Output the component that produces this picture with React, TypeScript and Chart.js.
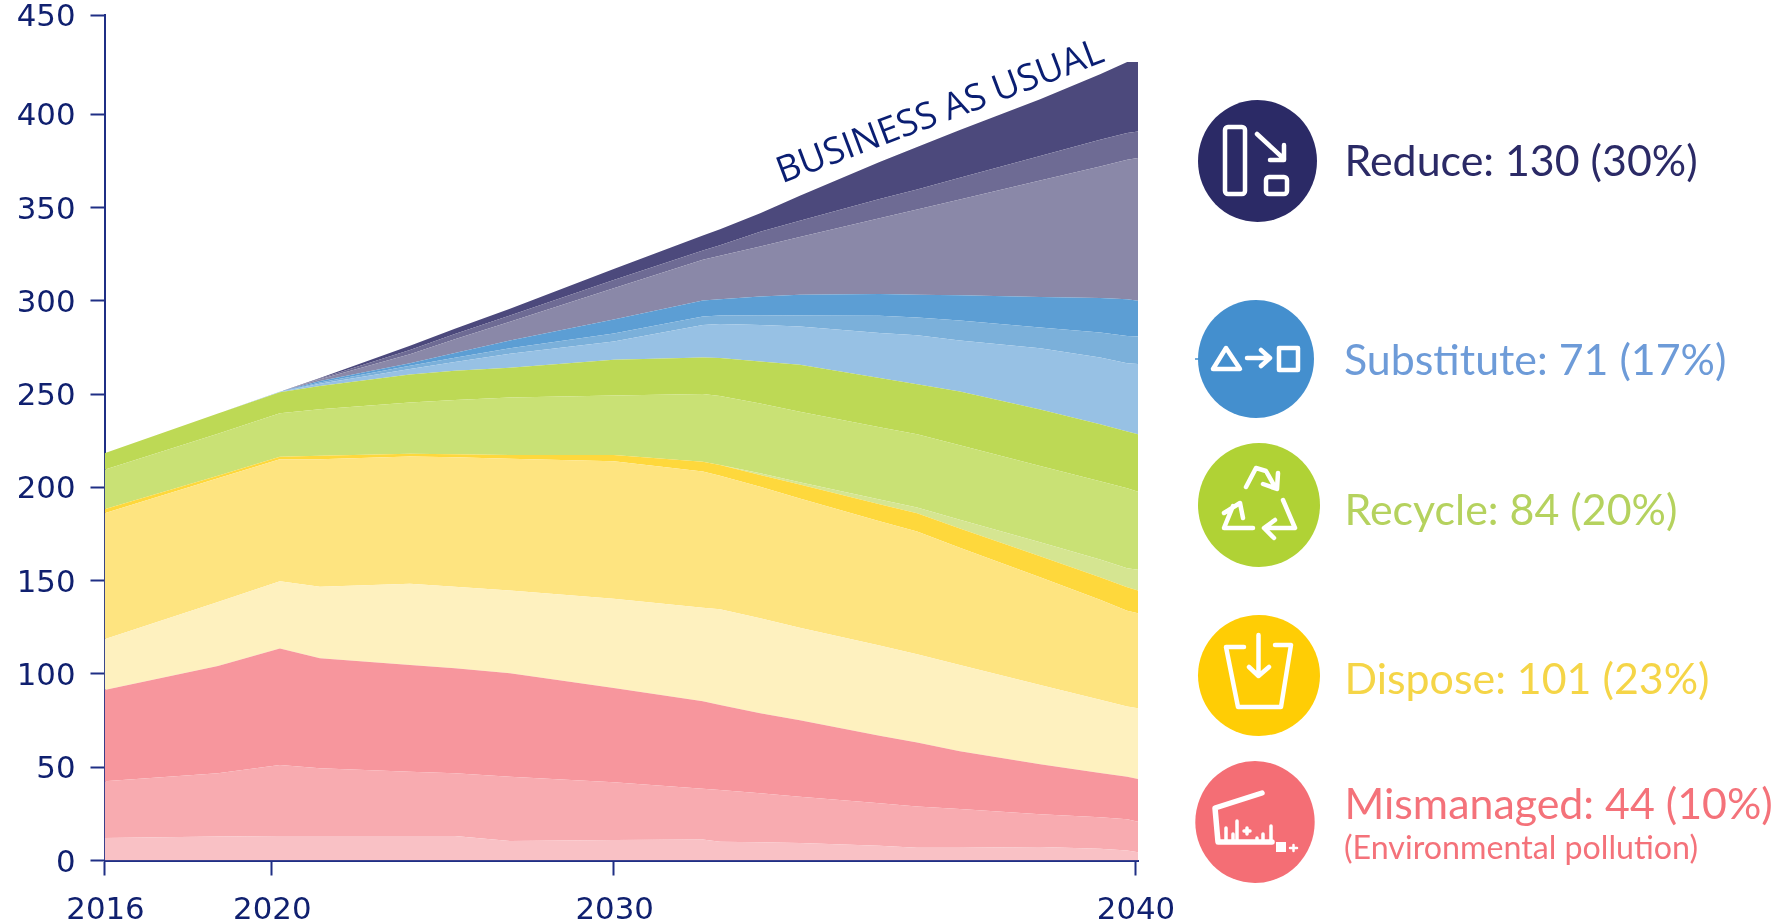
import React, { useEffect, useRef } from "react";
import { Chart, registerables, LinearScale } from "chart.js";

const years = [2016, 2018.72, 2020.25, 2021.42, 2024.05, 2025.36, 2026.97, 2030, 2031.71, 2032.04, 2032.81, 2033.57, 2035.1, 2035.82, 2036.64, 2038.18, 2039.33, 2039.85, 2040.05];
const xTickValues = [2016, 2020, 2030, 2040];
const yTickValues = [0, 50, 100, 150, 200, 250, 300, 350, 400, 450];

// Upper edge of each band (Mt per year), bottom to top.
const mismanagedA = [12.1, 12.8, 13.1, 13.1, 13.1, 13.1, 10.5, 11, 11.2, 10.1, 9.8, 9.4, 7.9, 6.9, 6.9, 7.2, 6.3, 5.3, 4.4];
const mismanagedB = [42.5, 46.8, 51.2, 49.4, 47.6, 46.8, 44.9, 42, 38.5, 37.8, 36, 34.2, 30.7, 29, 27.6, 24.8, 23.2, 22.1, 20.8];
const mismanagedC = [91.4, 104.3, 113.6, 108.4, 104.8, 103, 100.4, 92.5, 85.3, 83.4, 78.9, 75.2, 66.9, 63.2, 58.5, 51.6, 46.9, 44.9, 43.7];
const disposeA = [118.6, 138.6, 149.7, 146.8, 148.4, 146.8, 144.7, 140.3, 135.5, 134.7, 129.9, 124.8, 115.2, 110.6, 104.8, 94.1, 86.1, 82.5, 81.6];
const disposeB = [186.2, 204.9, 215.1, 215.1, 216.5, 216.2, 215.3, 214, 208.5, 206.2, 200.4, 194, 181.9, 176.3, 167.7, 151.8, 139.8, 133.9, 132.5];
const disposeC = [188.3, 206.3, 216.4, 216.9, 218, 217.8, 217.4, 217.4, 213.8, 212, 206.7, 201.5, 191, 186.2, 177.9, 163.1, 151.8, 146.5, 144.7];
const recycleA = [188.3, 206.3, 216.4, 216.9, 218, 217.8, 217.4, 217.4, 213.8, 212, 207.6, 202.8, 193.5, 189.2, 182.7, 170.6, 161.3, 156.7, 155.8];
const recycleB = [209.4, 228.8, 239.8, 241.9, 245.5, 246.9, 248.2, 249.2, 250.1, 249, 245, 240.6, 232.3, 228.5, 222.6, 211.5, 203.3, 199.6, 197.7];
const recycleC = [218.3, 239.6, 251, 254.4, 260.5, 262.5, 264.1, 268.4, 269.6, 269.3, 267.5, 265.7, 258.7, 255.3, 251.4, 241.7, 233.9, 229.9, 228.5];
const substituteA = [218.3, 239.6, 251.1, 255.5, 263.5, 267.2, 271.6, 278.2, 287.1, 287.6, 287.1, 286.2, 282.7, 281.6, 278.7, 274.6, 269.6, 266.6, 266.2];
const substituteB = [218.3, 239.6, 251.1, 256.2, 265.2, 269.5, 274.6, 282.5, 291.6, 292.1, 292.3, 292.1, 292, 291, 289.4, 285.7, 283, 281.2, 280.9];
const substituteC = [218.3, 239.6, 251.2, 257, 266.6, 272, 278.7, 290, 300.2, 300.9, 302.3, 303.2, 303.6, 303.2, 303, 302.1, 301.5, 300.9, 300];
const reduceA = [218.3, 239.6, 251.2, 258, 271.4, 279.4, 288.8, 306.8, 322, 324.1, 329.1, 334.2, 344.3, 349, 354.3, 364.5, 372, 375.6, 376.5];
const reduceB = [218.3, 239.6, 251.2, 258.4, 273.7, 282.2, 292.1, 311.2, 327, 329.8, 337, 342.9, 354.6, 359.7, 366, 377.6, 386.3, 389.9, 390.8];
const reduceC = [218.3, 239.6, 251.2, 258.7, 275.9, 285, 295.8, 317, 335, 338.4, 347, 356.3, 374.4, 382.4, 391.6, 407.6, 420.2, 426.4, 426.4];

const bands = [mismanagedA, mismanagedB, mismanagedC, disposeA, disposeB, disposeC, recycleA, recycleB, recycleC, substituteA, substituteB, substituteC, reduceA, reduceB, reduceC];
const bandNames = ["Mismanaged A", "Mismanaged B", "Mismanaged C", "Dispose A", "Dispose B", "Dispose C", "Recycle A", "Recycle B", "Recycle C", "Substitute A", "Substitute B", "Substitute C", "Reduce A", "Reduce B", "Reduce C"];
const bandColors = ["#f9c1c5", "#f8abb0", "#f7969d", "#fef1bf", "#fee480", "#fed83c", "#d5e591", "#c9e175", "#bdd955", "#97c1e4", "#7bb0da", "#5c9ed4", "#8a88a8", "#6e6b94", "#4c497c"];

const legendLines = [
  { text: "Reduce: 130 (30%)", color: "#2b2a66" },
  { text: "Substitute: 71 (17%)", color: "#6d9bd8" },
  { text: "Recycle: 84 (20%)", color: "#b5d25e" },
  { text: "Dispose: 101 (23%)", color: "#f5d547" },
  { text: "Mismanaged: 44 (10%)", color: "#f4727a" },
];
const legendNote = "(Environmental pollution)";
const curveLabel = "BUSINESS AS USUAL";

const NAVY = "#10206f";
const AXIS = "#1f2f85";

// The source axes are not uniform, so each is drawn by piecewise-linear stops of [value, fraction].
const xStops = [[2016, 0], [2020, 0.1614], [2030, 0.4927], [2040, 0.9971], [2040.05, 1]];
const yStops = [[0, 0], [400, 0.8829], [450, 1]];

function interp(stops: number[][], v: number, a: number, b: number) {
  for (let i = 0; i < stops.length - 1; i++) {
    if (v <= stops[i + 1][a] || i === stops.length - 2) {
      const t = (v - stops[i][a]) / (stops[i + 1][a] - stops[i][a]);
      return stops[i][b] + t * (stops[i + 1][b] - stops[i][b]);
    }
  }
  return 0;
}

class PiecewiseScale extends LinearScale {
  static id = "piecewise";
  static defaults = LinearScale.defaults;
  stops() {
    return this.axis === "x" ? xStops : yStops;
  }
  getPixelForValue(value: number) {
    if (value === null || value === undefined) return NaN;
    return this.getPixelForDecimal(interp(this.stops(), value, 0, 1));
  }
  getValueForPixel(pixel: number) {
    return interp(this.stops(), this.getDecimalForPixel(pixel), 1, 0);
  }
}

Chart.register(...registerables, PiecewiseScale);

const FONT = { family: "'DejaVu Sans'", size: 30.8 };

function noPadding(s: any) {
  s.paddingTop = 0;
  s.paddingBottom = 0;
  s.paddingLeft = 0;
  s.paddingRight = 0;
}

function Icons() {
  const s = { fill: "none", stroke: "#fff", strokeWidth: 4.5, strokeLinejoin: "round", strokeLinecap: "round" } as any;
  return (
    <g>
      <ellipse cx={1257.5} cy={161} rx={59.5} ry={61} fill="#2b2a66" />
      <rect x={1225} y={127} width={20} height={67} rx={3} {...s} />
      <path d="M1257 134 L1284 159 M1284 145 L1284 160 L1270 160" {...s} />
      <rect x={1266} y={177} width={21} height={17} rx={3} {...s} />

      <line x1={1195} y1={359} x2={1200} y2={359} stroke="#448fce" strokeWidth={1.5} />
      <ellipse cx={1256} cy={359} rx={58} ry={59} fill="#448fce" />
      <path d="M1226 348 L1240 369 L1213 369 Z" {...s} />
      <path d="M1247 358 L1269 358 M1261 350 L1270 358 L1261 366" {...s} />
      <rect x={1279} y={348} width={19} height={22} {...s} />

      <ellipse cx={1259} cy={505} rx={61} ry={62} fill="#b0d235" />
      <path d="M1246 487 L1256 468 L1266 471 L1275 487 M1263 484 L1277 489 L1278 473" {...s} />
      <path d="M1253 528 L1224 528 L1233 506 M1224 513 L1240 503 L1243 518" {...s} />
      <path d="M1283 500 L1295 528 L1265 528 M1275 520 L1264 528 L1274 538" {...s} />

      <ellipse cx={1259} cy={675.5} rx={61} ry={60.5} fill="#ffcd05" />
      <path d="M1244 647 L1226 647 L1238 707 L1281 707 L1291 645 L1275 645" {...s} />
      <path d="M1258.5 635 L1258.5 676 M1249 667 L1258.5 676 L1269 667" {...s} />

      <ellipse cx={1255} cy={822} rx={59.7} ry={61} fill="#f46e75" />
      <path d="M1262 793 L1215 808 L1218 842 L1272 842" {...s} strokeWidth={5.5} />
      <path d="M1226 842 V828 M1233 842 V834 M1237 842 V821 M1247 834 V828 M1244 831 H1250 M1257 842 V838 M1263 842 V834 M1271 842 V826" {...s} strokeWidth={3.5} />
      <rect x={1276} y={842} width={10} height={10} fill="#fff" />
      <path d="M1290 848 H1297 M1293.5 845 V851" {...s} strokeWidth={2.5} />
    </g>
  );
}

function Overlay() {
  const rows = [
    { x: 1344.5, y: 175.5 },
    { x: 1344, y: 375 },
    { x: 1344.5, y: 524.5 },
    { x: 1344.5, y: 694 },
    { x: 1344.5, y: 818.5 },
  ];
  return (
    <svg width={1779} height={924} style={{ position: "absolute", left: 0, top: 0, pointerEvents: "none" }}>
      <text transform="translate(782 183.5) rotate(-20.7)" fontFamily="'Open Sans'" fontSize={36.6} fill="#0a1e72">{curveLabel}</text>
      <Icons />
      {legendLines.map((l, i) => (
        <text key={l.text} x={rows[i].x} y={rows[i].y} fontFamily="Lato" fontSize={42.9} fill={l.color}>{l.text}</text>
      ))}
      <text x={1344} y={859} fontFamily="Lato" fontSize={32.2} fill="#f4727a">{legendNote}</text>
    </svg>
  );
}

export default function App() {
  const ref = useRef<HTMLCanvasElement>(null);
  useEffect(() => {
    const chart = new Chart(ref.current!, {
      type: "line",
      data: {
        datasets: bands.map((band, i) => ({
          label: bandNames[i],
          data: years.map((x, j) => ({ x, y: band[j] })),
          backgroundColor: bandColors[i],
          borderWidth: 0,
          pointRadius: 0,
          tension: 0,
          fill: i === 0 ? "origin" : "-1",
        })),
      },
      options: {
        animation: false,
        responsive: false,
        layout: { padding: { left: 0, right: 641, top: 15.3, bottom: 0 } },
        plugins: { legend: { display: false }, title: { display: false }, tooltip: { enabled: false } },
        scales: {
          x: {
            type: "piecewise",
            min: 2016,
            max: 2040.05,
            afterBuildTicks: (s: any) => { s.ticks = xTickValues.map((value) => ({ value })); },
            afterFit: (s: any) => { s.height = 63.5; noPadding(s); },
            grid: { drawOnChartArea: false, drawTicks: true, tickLength: 15, tickColor: AXIS, tickWidth: 2 },
            border: { color: AXIS, width: 2 },
            ticks: { color: NAVY, font: FONT, padding: 17, labelOffset: 1, maxRotation: 0, autoSkip: false, callback: (v: any) => String(v) },
          },
          y: {
            type: "piecewise",
            min: 0,
            max: 450,
            afterBuildTicks: (s: any) => { s.ticks = yTickValues.map((value) => ({ value })); },
            afterFit: (s: any) => { s.width = 104.5; noPadding(s); },
            grid: { drawOnChartArea: false, drawTicks: true, tickLength: 14, tickColor: AXIS, tickWidth: 2 },
            border: { color: AXIS, width: 2 },
            ticks: { color: NAVY, font: FONT, padding: 15, labelOffset: 3, autoSkip: false, callback: (v: any) => String(v) },
          },
        } as any,
      },
    });
    return () => chart.destroy();
  }, []);
  return (
    <div style={{ position: "absolute", left: 0, top: 0, width: 1779, height: 924, background: "#fff" }}>
      <canvas ref={ref} width={1779} height={924} style={{ display: "block" }} />
      <Overlay />
    </div>
  );
}
